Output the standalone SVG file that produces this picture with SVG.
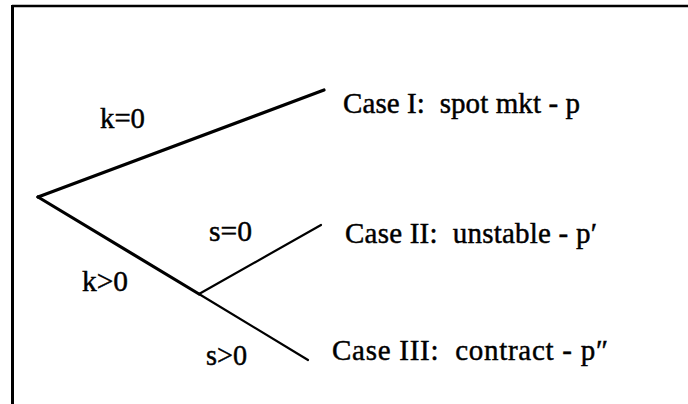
<svg xmlns="http://www.w3.org/2000/svg" width="688" height="404" viewBox="0 0 688 404">
<style>
.t{font-family:"Liberation Serif","Times New Roman",serif;font-size:29px;fill:#000;stroke:#000;stroke-width:0.45}
.thick{stroke:#000;stroke-width:3.2;fill:none;stroke-linecap:round}
.thin{stroke:#000;stroke-width:2.2;fill:none;stroke-linecap:round}
</style>
<rect width="688" height="404" fill="#fff"/>
<g id="frame">
<line x1="12" y1="6" x2="688" y2="6" stroke="#000" stroke-width="2.5"/>
<line x1="12.5" y1="5" x2="12.5" y2="404" stroke="#000" stroke-width="3"/>
</g>
<g id="connectors">
<line class="thick" x1="38" y1="197" x2="324" y2="90"/>
<line class="thick" x1="38" y1="197" x2="199" y2="294"/>
<line class="thin" x1="199" y1="294" x2="308" y2="360"/>
<line class="thin" x1="199" y1="294" x2="321" y2="225"/>
</g>
<g id="labels">
<text class="t" x="100" y="128" textLength="45" lengthAdjust="spacingAndGlyphs">k=0</text>
<text class="t" x="82" y="291" textLength="46" lengthAdjust="spacingAndGlyphs">k&gt;0</text>
<text class="t" x="209" y="241" textLength="43" lengthAdjust="spacingAndGlyphs">s=0</text>
<text class="t" x="206" y="365" textLength="41" lengthAdjust="spacingAndGlyphs">s&gt;0</text>
</g>
<g id="case1">
<text class="t" x="343" y="113" textLength="237" xml:space="preserve">Case I:  spot mkt - p</text>
</g>
<g id="case2">
<text class="t" x="345" y="243" textLength="252" xml:space="preserve">Case II:  unstable - p′</text>
</g>
<g id="case3">
<text class="t" x="332" y="360" textLength="276" xml:space="preserve">Case III:  contract - p″</text>
</g>
</svg>
